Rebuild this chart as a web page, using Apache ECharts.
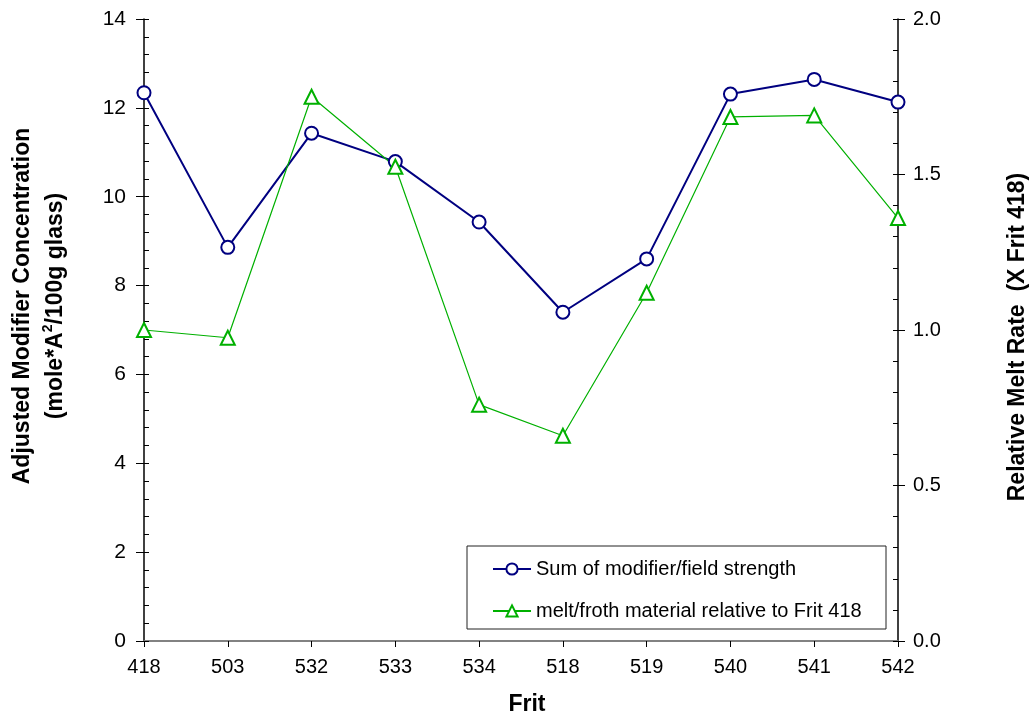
<!DOCTYPE html>
<html><head><meta charset="utf-8">
<script src="https://cdn.jsdelivr.net/npm/echarts@6/dist/echarts.min.js"></script>
<style>html,body{margin:0;padding:0;background:#fff}#c{width:1032px;height:717px}</style>
</head><body><div id="c"></div>
<script>
const categories = ['418','503','532','533','534','518','519','540','541','542'];
const modifierSum = [12.34, 8.86, 11.43, 10.79, 9.43, 7.40, 8.60, 12.31, 12.64, 12.13];
const meltRate = [1.00, 0.975, 1.75, 1.525, 0.76, 0.66, 1.12, 1.685, 1.69, 1.36];
const seriesNames = ['Sum of modifier/field strength', 'melt/froth material relative to Frit 418'];
const leftTitle1 = 'Adjusted Modifier Concentration';
const leftTitle2 = ['(mole*A', '2', '/100g glass)'];
const rightTitle = 'Relative Melt Rate  (X Frit 418)';
const xTitle = 'Frit';

const FONT = 'Liberation Sans, Arial, sans-serif';
const chart = echarts.init(document.getElementById('c'));
const blank = {show:false};
chart.setOption({
  animation:false,
  backgroundColor:'#fff',
  grid:{left:144,right:134,top:19,bottom:76,containLabel:false},
  xAxis:[{
    type:'category',data:categories,boundaryGap:false,
    axisLine:{lineStyle:{color:'#000',width:1.5}},
    axisTick:{show:true,length:6,lineStyle:{color:'#000'}},
    axisLabel:{color:'#000',fontSize:20,fontFamily:FONT,margin:16},
    splitLine:blank
  },{
    type:'category',data:categories,boundaryGap:false,position:'top',
    axisLine:{lineStyle:{color:'#999',width:1.5}},
    axisTick:blank,axisLabel:blank,splitLine:blank
  }],
  yAxis:[{
    type:'value',min:0,max:14,interval:2,position:'left',
    axisLine:{show:true,lineStyle:{color:'#000',width:1.5}},
    axisTick:{show:true,length:8,lineStyle:{color:'#000'}},
    axisLabel:{color:'#000',fontSize:21,fontFamily:FONT,margin:18},
    splitLine:blank
  },{
    type:'value',min:0,max:2,interval:0.5,position:'right',
    axisLine:{show:true,lineStyle:{color:'#000',width:1.5}},
    axisTick:{show:true,length:7,lineStyle:{color:'#000'}},
    axisLabel:{color:'#000',fontSize:20,fontFamily:FONT,margin:15,formatter:v=>v.toFixed(1)},
    splitLine:blank
  },{
    type:'value',min:0,max:14,interval:0.4,position:'left',
    axisLine:blank,axisLabel:blank,splitLine:blank,
    axisTick:{show:true,inside:true,length:5,lineStyle:{color:'#000'}}
  },{
    type:'value',min:0,max:2,interval:0.1,position:'right',
    axisLine:blank,axisLabel:blank,splitLine:blank,
    axisTick:{show:true,inside:true,length:5,lineStyle:{color:'#000'}}
  }],
  legend:{
    orient:'vertical',left:492,top:558,itemWidth:38,itemHeight:14,itemGap:20,
    padding:0,
    textStyle:{color:'#000',fontSize:20,fontFamily:FONT,lineHeight:22},
    data:seriesNames
  },
  graphic:[
    {type:'rect',z:-1,shape:{x:467,y:546,width:419,height:83},style:{fill:'#fff',stroke:'#222',lineWidth:1}},
    {type:'text',x:23,y:306,rotation:Math.PI/2,style:{text:leftTitle1,fill:'#000',font:'bold 23px '+FONT,align:'center',verticalAlign:'middle'}},
    {type:'text',x:54,y:306,rotation:Math.PI/2,style:{
      text:'{a|'+leftTitle2[0]+'}{s|'+leftTitle2[1]+'}{a|'+leftTitle2[2]+'}',
      align:'center',verticalAlign:'middle',
      rich:{
        a:{fill:'#000',fontSize:23,fontWeight:'bold',fontFamily:FONT,lineHeight:26,verticalAlign:'bottom'},
        s:{fill:'#000',fontSize:14,fontWeight:'bold',fontFamily:FONT,lineHeight:26,verticalAlign:'top'}
      }}},
    {type:'text',x:1018,y:337,rotation:Math.PI/2,style:{text:rightTitle,fill:'#000',font:'bold 23px '+FONT,align:'center',verticalAlign:'middle'}},
    {type:'text',x:527,y:705,style:{text:xTitle,fill:'#000',font:'bold 23px '+FONT,align:'center',verticalAlign:'middle'}}
  ],
  series:[{
    name:seriesNames[0],type:'line',yAxisIndex:0,data:modifierSum,
    symbol:'emptyCircle',symbolSize:13,
    lineStyle:{color:'#000080',width:2},
    itemStyle:{color:'#000080',borderColor:'#000080',borderWidth:1.6}
  },{
    name:seriesNames[1],type:'line',yAxisIndex:1,data:meltRate,
    symbol:'emptyTriangle',symbolSize:14,
    lineStyle:{color:'#00b000',width:1.2},
    itemStyle:{color:'#00b000',borderColor:'#00b000',borderWidth:1.6}
  }]
});
</script></body></html>
